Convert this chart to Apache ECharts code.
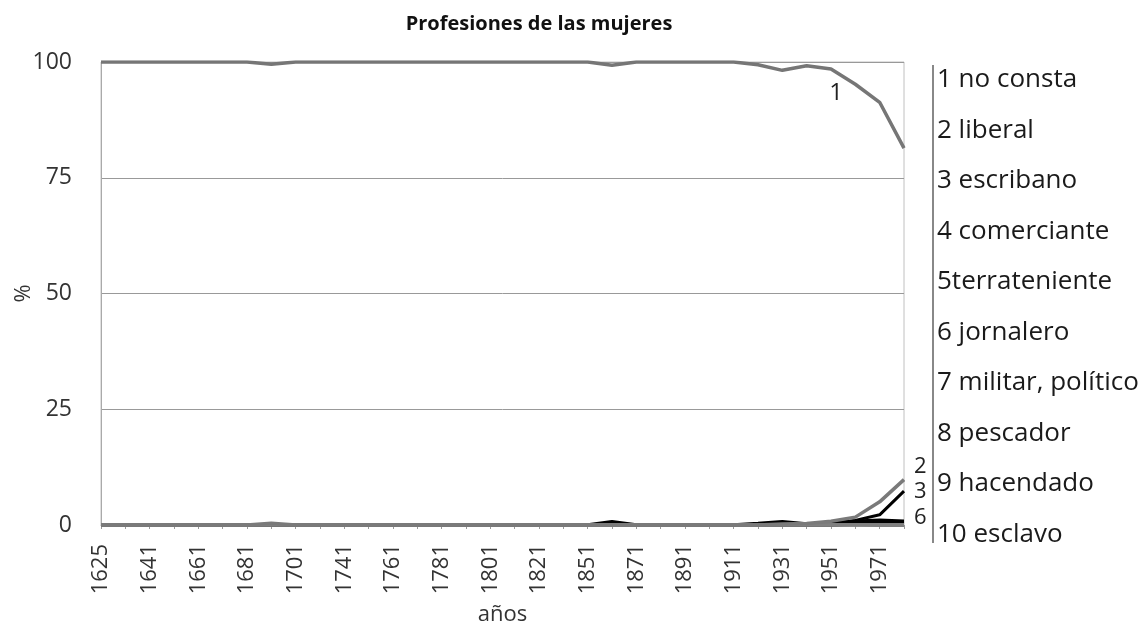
<!DOCTYPE html>
<html>
<head>
<meta charset="utf-8">
<title>Profesiones de las mujeres</title>
<script src="https://cdn.jsdelivr.net/npm/echarts@6/dist/echarts.min.js"></script>
<style>
  html, body { margin: 0; padding: 0; background: #fff; }
  #chart { width: 1146px; height: 624px; }
</style>
</head>
<body>
<div id="chart"></div>
<script>
// periods (only every other one is labelled on the axis)
const years = ['1625', '1631', '1641', '1651', '1661', '1671', '1681', '1691', '1701', '1721',
  '1741', '1751', '1761', '1771', '1781', '1791', '1801', '1811', '1821', '1841',
  '1851', '1861', '1871', '1881', '1891', '1901', '1911', '1921', '1931', '1941',
  '1951', '1961', '1971', '1981']

const seriesNames = ['1 no consta', '2 liberal', '3 escribano', '4 comerciante', '5terrateniente',
  '6 jornalero', '7 militar, político', '8 pescador', '9 hacendado', '10 esclavo']

const noConsta = [100, 100, 100, 100, 100, 100, 100, 99.5, 100, 100,
  100, 100, 100, 100, 100, 100, 100, 100, 100, 100,
  100, 99.3, 100, 100, 100, 100, 100, 99.4, 98.2, 99.2,
  98.5, 95.2, 91.3, 81.4]
const liberal = [0, 0, 0, 0, 0, 0, 0, 0.4, 0, 0,
  0, 0, 0, 0, 0, 0, 0, 0, 0, 0,
  0, 0, 0, 0, 0, 0, 0, 0, 0.2, 0.3,
  0.8, 1.7, 5.0, 9.8]
const escribano = [0, 0, 0, 0, 0, 0, 0, 0, 0, 0,
  0, 0, 0, 0, 0, 0, 0, 0, 0, 0,
  0, 0, 0, 0, 0, 0, 0, 0, 0, 0,
  0.3, 1.0, 2.2, 7.3]
const comerciante = [0, 0, 0, 0, 0, 0, 0, 0, 0, 0,
  0, 0, 0, 0, 0, 0, 0, 0, 0, 0,
  0, 0, 0, 0, 0, 0, 0, 0, 0, 0,
  0.1, 0.4, 0.3, 0.4]
const terrateniente = [0, 0, 0, 0, 0, 0, 0, 0, 0, 0,
  0, 0, 0, 0, 0, 0, 0, 0, 0, 0,
  0, 0, 0, 0, 0, 0, 0, 0, 0, 0,
  0, 0.2, 0, 0]
const jornalero = [0, 0, 0, 0, 0, 0, 0, 0, 0, 0,
  0, 0, 0, 0, 0, 0, 0, 0, 0, 0,
  0, 0.7, 0, 0, 0, 0, 0, 0.3, 0.7, 0.2,
  0.4, 0.8, 1.0, 0.8]
const militar = [0, 0, 0, 0, 0, 0, 0, 0, 0, 0,
  0, 0, 0, 0, 0, 0, 0, 0, 0, 0,
  0, 0, 0, 0, 0, 0, 0, 0, 0, 0,
  0, 0.3, 0.2, 0.3]
const pescador = years.map(() => 0)
const hacendado = years.map(() => 0)
const esclavo = years.map(() => 0)

const seriesData = [noConsta, liberal, escribano, comerciante, terrateniente,
  jornalero, militar, pescador, hacendado, esclavo]
const lineColors = ['#767676', '#7a7a7a', '#000', '#000', '#000',
  '#000', '#000', '#808080', '#808080', '#808080']
// draw order: grey zero lines sit on top of the black ones
const zOrder = [10, 17, 15, 11, 11, 12, 11, 16, 16, 16]
const endLabels = { 1: ['2', -13], 2: ['3', 1], 5: ['6', -4] }

const FONT = 'Open Sans'

const chart = echarts.init(document.getElementById('chart'))

const series = seriesNames.map((name, i) => {
  const s = {
    name,
    type: 'line',
    data: seriesData[i].slice(),
    showSymbol: false,
    symbol: 'none',
    animation: false,
    lineStyle: { color: lineColors[i], width: i === 2 ? 3 : 3.5 },
    itemStyle: { color: lineColors[i] },
    z: zOrder[i]
  }
  if (endLabels[i]) {
    s.endLabel = {
      show: true,
      formatter: endLabels[i][0],
      distance: 10,
      offset: [0, endLabels[i][1]],
      color: '#222',
      fontFamily: FONT,
      fontSize: 22
    }
  }
  if (i === 0) {
    // series number written under the line near 1951
    s.symbol = 'circle'
    s.symbolSize = 0
    s.showSymbol = true
    s.label = { show: false }
    s.data[30] = {
      value: noConsta[30],
      label: {
        show: true,
        position: 'bottom',
        distance: 12,
        offset: [5, 0],
        formatter: '1',
        color: '#222',
        fontFamily: FONT,
        fontSize: 24
      }
    }
  }
  return s
})

chart.setOption({
  backgroundColor: '#fff',
  animation: false,
  title: {
    text: 'Profesiones de las mujeres',
    left: 534,
    textAlign: 'center',
    top: 9,
    textStyle: { fontFamily: FONT, fontSize: 20, fontWeight: 'bold', color: '#111' }
  },
  grid: {
    left: 101,
    right: 242,
    top: 62,
    bottom: 99,
    outerBoundsMode: 'none',
    containLabel: false,
    show: true,
    borderColor: '#c0c0c0',
    borderWidth: 1
  },
  legend: {
    orient: 'vertical',
    left: 927,
    top: 60,
    icon: 'none',
    itemWidth: 0,
    itemHeight: 14,
    itemGap: 20.5,
    selectedMode: false,
    data: seriesNames,
    textStyle: { fontFamily: FONT, fontSize: 26, lineHeight: 30, color: '#1a1a1a' }
  },
  xAxis: {
    type: 'category',
    data: years,
    boundaryGap: false,
    name: 'años',
    nameLocation: 'middle',
    nameGap: 79,
    nameTextStyle: { fontFamily: FONT, fontSize: 22, color: '#333' },
    axisLine: { lineStyle: { color: '#999', width: 1 } },
    axisTick: { show: true, interval: 0, length: 4, lineStyle: { color: '#999' } },
    axisLabel: {
      interval: 1,
      rotate: 90,
      margin: 19,
      fontFamily: FONT,
      fontSize: 22,
      color: '#333'
    },
    splitLine: { show: false }
  },
  yAxis: {
    type: 'value',
    min: 0,
    max: 100,
    interval: 25,
    name: '%',
    nameLocation: 'middle',
    nameGap: 66,
    nameRotate: 90,
    nameMoveOverlap: false,
    nameTextStyle: { fontFamily: FONT, fontSize: 22, color: '#333' },
    axisLine: { show: true, lineStyle: { color: '#aaa' } },
    axisTick: { show: false },
    axisLabel: { margin: 29, fontFamily: FONT, fontSize: 23, color: '#333' },
    splitLine: { show: true, lineStyle: { color: '#999', width: 1 } }
  },
  graphic: [{
    type: 'line',
    shape: { x1: 933, y1: 65, x2: 933, y2: 543 },
    style: { stroke: '#888', lineWidth: 2 }
  }],
  series
})
</script>
</body>
</html>
